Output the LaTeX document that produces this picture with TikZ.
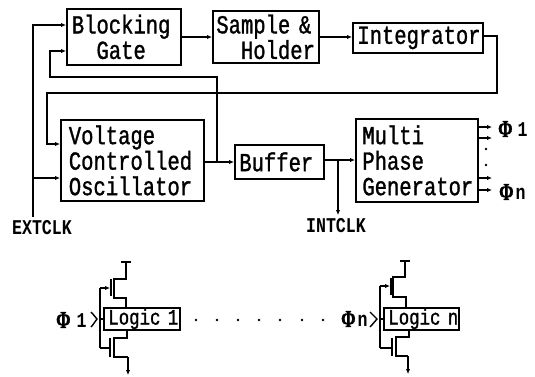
\documentclass[tikz,border=0pt]{standalone}
\usepackage{fontspec}
\setmainfont{Liberation Mono}
\newfontfamily\tfont[FakeStretch=0.79,FakeBold=1.2]{Liberation Mono}
\newfontfamily\lfont[FakeStretch=0.79]{Liberation Mono Bold}
\newfontfamily\phifont[FakeStretch=0.72,FakeBold=1.5]{Liberation Serif Bold}
\usetikzlibrary{arrows.meta,calc}
\tikzset{
  wire/.style={line width=1.4pt,line join=miter},
  arr/.style={wire,-{Latex[length=5pt,width=4.5pt]}},
  box/.style={draw,line width=1.7pt,anchor=north west,inner xsep=0pt,inner ysep=0pt,align=left,font=\tfont\fontsize{26}{25.5}\selectfont},
  lgc/.style={box,font=\tfont\fontsize{22}{22}\selectfont},
  lbl/.style={inner sep=0pt,font=\lfont\fontsize{21}{22}\selectfont},
  phi/.style={inner sep=0pt,anchor=west,font=\lfont\fontsize{21}{22}\selectfont},
  dotm/.style={circle,fill,inner sep=0pt,minimum size=2.8pt},
}
\newcommand{\ind}{\phantom{xx}}
\newcommand{\bigphi}{{\phifont\fontsize{24}{24}\selectfont Φ}}
\begin{document}
\begin{tikzpicture}[x=1pt,y=-1pt]
\useasboundingbox (0,0) rectangle (535,376);
% blocks
\node[box,minimum width=114pt,minimum height=56pt,text width=110pt] (bg) at (66,8) {\hspace*{3pt}Blocking\\\hspace*{3pt}\ind Gate};
\node[box,minimum width=106pt,minimum height=52pt,text width=103pt] (sh) at (212,10) {\hspace*{2pt}Sample \&\\\hspace*{2pt}\ind Holder};
\node[box,minimum width=130pt,minimum height=30pt,text width=127pt] (int) at (352,22) {\hspace*{3pt}Integrator};
\node[box,minimum width=143pt,minimum height=81pt,text width=139pt] (vco) at (60,119) {\hspace*{6pt}Voltage\\\hspace*{6pt}Controlled\\\hspace*{6pt}Oscillator};
\node[box,minimum width=89pt,minimum height=34pt,text width=86pt] (buf) at (234,144) {\hspace*{3pt}Buffer};
\node[box,minimum width=122pt,minimum height=83pt,text width=119pt] (mpg) at (355,118) {\hspace*{5pt}Multi\\\hspace*{5pt}Phase\\\hspace*{5pt}Generator};
\node[lgc,minimum width=76pt,minimum height=22pt,text width=73pt] (l1) at (103,307) {\mbox{\hspace*{3pt}Logic 1}};
\node[lgc,minimum width=75pt,minimum height=22pt,text width=72pt] (ln) at (383,307) {\mbox{\hspace*{3pt}Logic n}};
% labels
\node[lbl] (ext) at (42,228) {EXTCLK};
\node[lbl] (intc) at (336,226) {INTCLK};
\node[phi] (p1) at (498,129) {\bigphi\hspace{5pt}1};
\node[phi] (pn) at (499,192) {\bigphi\hspace{2pt}n};
\node[phi] (q1) at (56,320) {\bigphi\hspace{6pt}1};
\node[phi] (qn) at (341,319) {\bigphi\hspace{2pt}n};
% top connectors
\coordinate (e0) at (33,217);
\coordinate (e1) at (33,25);
\coordinate (e2) at (33,178);
\coordinate (j1) at (217,162);
\coordinate (b1) at (50,51);
\coordinate (b2) at (50,77);
\coordinate (b3) at (217,77);
\coordinate (r1) at (497,36);
\coordinate (r2) at (497,93);
\coordinate (r3) at (47,93);
\coordinate (r4) at (47,144);
\coordinate (i1) at (338,160);
\coordinate (i2) at (338,215);
\draw[arr] (e0) -- (e1) -- ([yshift=-17pt]bg.north west);
\draw[arr] (e2) -- ([yshift=-59pt]vco.north west);
\draw[arr] (bg.east |- 0,37) -- (sh.west |- 0,37);
\draw[arr] (sh.east |- 0,37) -- (int.west |- 0,37);
\draw[arr] (int.east |- r1) -- (r1) -- (r2) -- (r3) -- (r4) -- (vco.west |- r4);
\draw[arr] (j1) -- (b3) -- (b2) -- (b1) -- (bg.west |- b1);
\draw[arr] (vco.east |- j1) -- (buf.west |- j1);
\draw[arr] (buf.east |- i1) -- (mpg.west |- i1);
\draw[arr] (i1) -- (i2);
\coordinate (a1) at (492,127); \coordinate (a2) at (492,138);
\coordinate (a3) at (492,178); \coordinate (a4) at (492,190);
\foreach \a in {a1,a2,a3,a4} \draw[arr] (mpg.east |- \a) -- (\a);
\node[dotm] (d1) at (486,149) {};
\node[dotm] (d2) at (486,165) {};
% transistors left
\coordinate (g1) at (100,288); \coordinate (g2) at (100,348);
\coordinate (gi) at (100,319);
\draw[wire] (l1.west |- gi) -- (gi);
\draw[wire] (91,312) .. controls (94,315) and (95,317) .. (97,319) .. controls (95,321) and (94,324) .. (91,327);
\draw[wire] (g2) -- (g1);
\draw[arr] (g1) -- (110,288);
\draw[wire] (111,279) -- (111,296);
\draw[wire] (121,262) -- (131,262);
\draw[wire] (126,262) -- (126,279) -- (114,279) -- (114,298) -- (126,298) -- (l1.north -| 126,0);
\draw[wire] (g2) -- (110,348);
\draw[wire] (110,338) -- (110,357);
\draw[wire] (l1.south -| 127,0) -- (127,338) -- (114,338) -- (114,357) -- (128,357);
\draw[arr] (128,357) -- (128,375);
% transistors right
\coordinate (h1) at (380,286); \coordinate (h2) at (380,348);
\coordinate (hi) at (380,319);
\draw[wire] (ln.west |- hi) -- (hi);
\draw[wire] (370,312) .. controls (373,315) and (375,317) .. (377,319) .. controls (375,321) and (373,324) .. (370,327);
\draw[wire] (h2) -- (h1);
\draw[arr] (h1) -- (390,286);
\draw[wire] (391,278) -- (391,295);
\draw[wire] (400,261) -- (410,261);
\draw[wire] (405,261) -- (405,277) -- (393,277) -- (393,297) -- (406,297) -- (ln.north -| 406,0);
\draw[wire] (h2) -- (392,348);
\draw[wire] (392,338) -- (392,356);
\draw[wire] (ln.south -| 409,0) -- (409,337) -- (396,337) -- (396,356) -- (408,356);
\draw[arr] (408,356) -- (408,374);
% dots
\foreach \x [count=\i] in {196,217,238,259,280,302,323} \node[dotm] (m\i) at (\x,320) {};
\end{tikzpicture}
\end{document}
